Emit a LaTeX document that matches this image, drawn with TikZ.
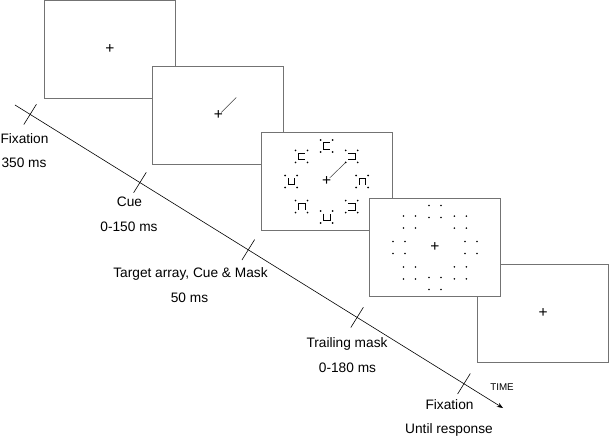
\documentclass[tikz,border=0pt]{standalone}
\usepackage{fontspec}
\setmainfont{Liberation Sans}
\usetikzlibrary{positioning,calc,arrows.meta}

\begin{document}
\begin{tikzpicture}[x=1pt,y=-1pt,node distance=66pt and 108.3pt,on grid,
    screen/.style={draw=black!55,line width=0.9pt,fill=white,minimum width=131pt,minimum height=98pt,inner sep=0pt},
    fix/.style={inner sep=0pt,font=\fontsize{15.5}{15.5}\selectfont},
    lbl/.style={anchor=base,inner sep=0pt,font=\fontsize{13.7}{16}\selectfont},
    tick/.style={line width=0.6pt},
    cue/.style={black!75,line width=0.5pt},
    pics/item/.style={code={
      \fill (-6,-6) circle (0.9) (6,-6) circle (0.9) (-6,6) circle (0.9) (6,6) circle (0.9);
      \draw[rotate=#1,line width=0.6pt] (3.3,-3.3) -- (-3.3,-3.3) -- (-3.3,3.3) -- (3.3,3.3);
    }},
    pics/mask/.style={code={
      \fill (-6,-6) circle (0.9) (6,-6) circle (0.9) (-6,6) circle (0.9) (6,6) circle (0.9);
    }}]
   \useasboundingbox (0,0) rectangle (609,438);

   % screens, the last one sits behind the mask screen
   \node[screen] (s1) at (110,49.5) {};
   \node[screen] (s2) [below right=of s1] {};
   \node[screen] (s3) [below right=of s2] {};
   \node[screen] (s5) [below right=132pt and 216.6pt of s3] {};
   \node[screen] (s4) [below right=of s3] {};

   \node[fix] (c1) at (s1) {+};
   \node[fix] (c2) at (s2) {+};
   \node[fix] (c3) at (s3) {+};
   \node[fix] (c4) at (s4) {+};
   \node[fix] (c5) at (s5) {+};

   \draw[cue] ([shift={(3,-3)}]s2.center) -- ([shift={(18,-18)}]s2.center);
   \draw[cue] ([shift={(3,-3.5)}]s3.center) -- ([shift={(19.5,-19.5)}]s3.center);

   % target array
   \foreach \a/\r in {270/0,225/0,315/180,0/270,180/90,135/270,90/90,45/180}
     \pic at ($(s3.center)+(\a:35.5)$) {item=\r};
   % trailing mask
   \foreach \a in {0,45,...,315}
     \pic at ($(s4.center)+(\a:36)$) {mask};

   % time line
   \coordinate (t0) at (15,105);
   \coordinate (t1) at (503,408);
   \draw[-{Stealth[length=6pt,width=4.5pt]},line width=0.6pt] (t0) -- (t1);
   \foreach \p [count=\i] in {0.031,0.256,0.478,0.701,0.92} {
     \coordinate (k\i) at ($(t0)!\p!(t1)$);
     \draw[tick] ($(k\i)!12pt!90:(t1)$) -- ($(k\i)!12pt!-90:(t1)$);
   }

   \node[lbl] (fixA) at (24.5,143.8) {Fixation};
   \node[lbl] (fixB) at (24,167.8) {350 ms};
   \node[lbl] (cueA) at (129.5,206.8) {Cue};
   \node[lbl] (cueB) at (129,231.8) {0-150 ms};
   \node[lbl] (tgtA) at (190.5,277.8) {Target array, Cue \& Mask};
   \node[lbl] (tgtB) at (189.5,302.8) {50 ms};
   \node[lbl] (trlA) at (347,347.8) {Trailing mask};
   \node[lbl] (trlB) at (347.5,372.8) {0-180 ms};
   \node[lbl] (endA) at (449.5,409.8) {Fixation};
   \node[lbl] (endB) at (449,433.5) {Until response};
   \node[lbl,font=\fontsize{9.8}{10}\selectfont] (time) at (502,390.5) {TIME};
\end{tikzpicture}
\end{document}
